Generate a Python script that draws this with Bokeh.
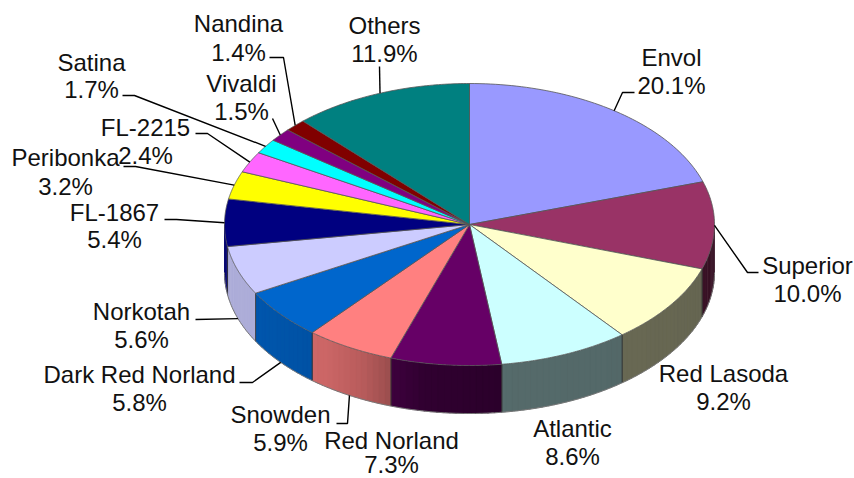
import numpy as np
from bokeh.plotting import figure
from bokeh.embed import file_html
from bokeh.resources import INLINE
from bokeh.core.properties import value

names = ["Envol", "Superior", "Red Lasoda", "Atlantic", "Red Norland", "Snowden",
         "Dark Red Norland", "Norkotah", "FL-1867", "Peribonka", "FL-2215",
         "Satina", "Vivaldi", "Nandina", "Others"]
shares = [20.1, 10.0, 9.2, 8.6, 7.3, 5.9, 5.8, 5.6, 5.4, 3.2, 2.4, 1.7, 1.5, 1.4, 11.9]
colors = ["#9999FF", "#993366", "#FFFFCC", "#CCFFFF", "#660066", "#FF8080", "#0066CC",
          "#CCCCFF", "#000080", "#FFFF00", "#FF66FF", "#00FFFF", "#800080", "#800000", "#008080"]

# label centres: x, y of first line, y of second line (page pixels)
label_x = [671, 807, 723, 572, 391, 280, 139, 141, 114, 65, 145, 91, 241, 238, 384]
label_y1 = [57, 265, 373, 428, 440, 414, 374, 311, 212, 157, 127, 62, 83, 23, 25]
label_y2 = [85, 293, 401, 456, 464, 442, 402, 339, 239, 186, 155, 89, 111, 52, 53]

# leader lines: slice index, fixed points before the rim, rim point on lower edge?
leaders = {
    0: ([(634, 92), (622, 92)], False),
    1: ([(758, 272), (747, 272)], False),
    5: ([(336, 423), (347, 423)], True),
    6: ([(239, 382), (252, 382)], True),
    7: ([(195, 319)], True),
    8: ([(164, 219), (176, 219)], False),
    9: ([(123, 166), (135, 166)], False),
    10: ([(195, 133), (207, 133)], False),
    11: ([(122, 95), (134, 95)], False),
    12: ([(272, 118)], False),
    13: ([(269, 57), (283, 57)], False),
    14: ([(379, 66)], False),
}

CX, CY, RX, RY, DEPTH = 469, 224, 245, 141, 48


def rim(deg):
    t = np.radians(deg)
    return CX + RX * np.sin(t), CY - RY * np.cos(t)


def shade(hex_color, k):
    r, g, b = (int(hex_color[i:i + 2], 16) for i in (1, 3, 5))
    return "#%02x%02x%02x" % (int(r * k), int(g * k), int(b * k))


def side_factor(deg):
    return float(np.interp(deg, [90, 110, 170, 190, 205, 215, 240, 270],
                           [0.35, 0.4, 0.42, 0.48, 0.72, 0.8, 0.85, 0.85]))


p = figure(width=854, height=478, x_range=(0, 854), y_range=(478, 0),
           output_backend="svg", toolbar_location=None, min_border=0)
p.axis.visible = False
p.grid.visible = False
p.outline_line_color = None
p.background_fill_color = "white"

edges = np.concatenate([[0], np.cumsum(shares)]) * 3.6

# outer side wall, as narrow strips so the shading can vary
for i, c in enumerate(colors):
    a0, a1 = max(edges[i], 90), min(edges[i + 1], 270)
    if a1 <= a0:
        continue
    steps = np.arange(a0, a1, 1.5).tolist() + [a1]
    for s0, s1 in zip(steps[:-1], steps[1:]):
        ts = np.linspace(s0, min(s1 + 0.4, a1), 4)
        xs, ys = rim(ts)
        col = shade(c, side_factor(s0))
        p.patch(np.r_[xs, xs[::-1]], np.r_[ys, ys[::-1] + DEPTH],
                fill_color=col, line_color=col, line_width=0.3)
    for a in (a0, a1):
        if 90 < a < 270:
            x, y = rim(a)
            p.line([x, x], [y, y + DEPTH], line_color="#333333", line_width=0.8)

ts = np.linspace(90, 270, 200)
xs, ys = rim(ts)
p.line(xs, ys + DEPTH, line_color="#777777", line_width=1)

# top face
for i, c in enumerate(colors):
    ts = np.linspace(edges[i], edges[i + 1], 60)
    xs, ys = rim(ts)
    p.patch(np.r_[CX, xs], np.r_[CY, ys], fill_color=c, line_color="#555555", line_width=0.8)

# leader lines
for i, (pts, lower) in leaders.items():
    x, y = rim((edges[i] + edges[i + 1]) / 2)
    if lower:
        y += DEPTH
    p.line([q[0] for q in pts] + [x], [q[1] for q in pts] + [y], line_color="black", line_width=1.4)

# labels
texts = names + ["%.1f%%" % s for s in shares]
p.text(label_x + label_x, label_y1 + label_y2, text=texts,
       text_font=value("Liberation Sans"), text_font_size="24px", text_color="#111111",
       text_align="center", text_baseline="middle")

open("out.html", "w").write(file_html(p, INLINE))
